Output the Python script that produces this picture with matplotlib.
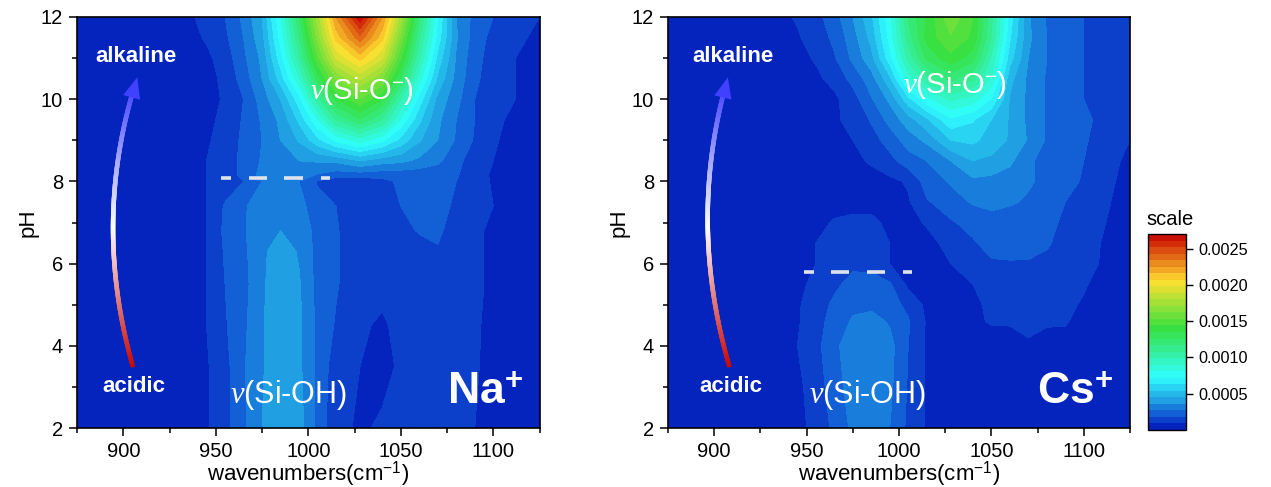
import matplotlib
matplotlib.use("Agg")
import matplotlib.pyplot as plt
import numpy as np
from matplotlib.collections import LineCollection
from matplotlib.colors import LinearSegmentedColormap
from matplotlib.ticker import MultipleLocator

plt.rcParams['font.family'] = ['Liberation Sans', 'DejaVu Sans']
plt.rcParams['mathtext.fontset'] = 'custom'
plt.rcParams['mathtext.rm'] = 'Liberation Sans'
plt.rcParams['mathtext.it'] = 'Liberation Serif:italic'
plt.rcParams['mathtext.bf'] = 'Liberation Sans:bold'

# wavenumber columns shared by both maps
wavenumbers = [875, 930, 945, 955, 965, 975, 985, 995, 1005, 1015, 1028,
               1040, 1050, 1060, 1070, 1080, 1090, 1100, 1112, 1125]

# intensities in units of 1e-5, one row per pH
na_ph = [2, 3.5, 4.5, 5.5, 6.3, 6.8, 7.4, 8.0, 8.15, 8.5, 9, 9.5, 10, 10.5, 11, 11.5, 12]
na_z = [
    [2, 3, 8, 15, 25, 36, 41, 40, 24, 11, 8, 10, 12, 12, 12, 11, 9, 6, 4, 3],
    [2, 3, 8, 15, 26, 35, 43, 38, 25, 13, 9, 7, 10, 12, 12, 11, 10, 6, 4, 3],
    [2, 3, 9, 17, 25, 35, 43, 38, 25, 17, 10, 8, 11, 12, 12, 11, 10, 7, 4, 3],
    [2, 3, 9, 18, 24, 34, 44, 37, 24, 19, 11, 11, 12, 12, 12, 11, 10, 8, 5, 3],
    [2, 3, 9, 19, 25, 34, 41, 35, 24, 19, 11, 11, 12, 13, 17, 12, 10, 8, 5, 3],
    [2, 3, 9, 20, 26, 33, 36, 33, 24, 19, 11, 11, 14, 19, 20, 13, 10, 8, 5, 3],
    [2, 3, 9, 19, 26, 31, 33, 30, 22, 18, 11, 12, 18, 20, 20, 17, 11, 9, 5, 3],
    [2, 3, 9, 13, 18, 27, 30, 27, 17, 12, 12, 15, 20, 20, 20, 18, 13, 8, 5, 3],
    [2, 3, 9, 14, 20, 30, 32, 32, 26, 22, 22, 21, 21, 21, 21, 19, 12, 8, 5, 3],
    [2, 3, 9, 14, 20, 28, 33, 36, 37, 38, 45, 40, 38, 34, 29, 21, 13, 9, 6, 3],
    [2, 3, 8, 12, 20, 27, 36, 46, 60, 74, 85, 74, 60, 46, 36, 26, 17, 10, 6, 3],
    [2, 3, 7, 11, 19, 28, 38, 56, 80, 108, 125, 108, 80, 56, 38, 27, 18, 11, 7, 4],
    [2, 3, 6, 10, 18, 31, 45, 68, 105, 135, 152, 135, 100, 68, 42, 30, 18, 12, 9, 5],
    [2, 3, 6, 11, 22, 36, 58, 88, 130, 162, 182, 162, 126, 85, 52, 33, 20, 13, 9, 5],
    [2, 3, 7, 13, 25, 38, 68, 105, 150, 190, 210, 190, 145, 100, 60, 35, 21, 14, 9, 6],
    [2, 4, 10, 16, 27, 42, 75, 115, 165, 210, 240, 210, 160, 110, 68, 37, 23, 15, 11, 7],
    [2, 5, 12, 18, 29, 45, 80, 125, 175, 225, 268, 225, 175, 120, 72, 36, 24, 18, 13, 9],
]

cs_ph = [2, 3, 4, 4.6, 5, 5.5, 6, 6.5, 7, 7.5, 8, 8.5, 9, 9.5, 10, 10.5, 11, 11.5, 12]
cs_z = [
    [2, 3, 6, 12, 20, 29, 32, 27, 16, 8, 5, 4, 4, 4, 4, 3, 3, 3, 2, 2],
    [2, 3, 7, 13, 23, 31, 34, 29, 17, 8, 5, 4, 4, 4, 4, 4, 3, 3, 2, 2],
    [2, 3, 9, 15, 25, 32, 33, 30, 18, 8, 5, 4, 4, 5, 8, 6, 5, 4, 3, 2],
    [2, 3, 8, 14, 22, 28, 30, 26, 19, 8, 5, 7, 10, 10, 11, 10, 10, 5, 3, 2],
    [2, 3, 8, 13, 20, 25, 25, 23, 15, 7, 5, 7, 11, 12, 12, 12, 11, 8, 4, 2],
    [2, 3, 7, 11, 16, 21, 22, 19, 7, 4, 6, 9, 13, 14, 14, 14, 13, 10, 5, 2],
    [2, 3, 6, 9, 13, 16, 15, 9, 4, 4, 9, 14, 17, 17, 17, 16, 14, 11, 8, 3],
    [2, 3, 5, 9, 12, 14, 14, 9, 4, 6, 12, 17, 21, 23, 22, 19, 15, 12, 8, 3],
    [2, 3, 4, 6, 10, 11, 11, 7, 6, 10, 17, 21, 23, 23, 23, 21, 16, 13, 9, 4],
    [2, 3, 4, 4, 5, 6, 6, 5, 8, 17, 23, 28, 30, 28, 26, 24, 18, 14, 10, 5],
    [2, 3, 3, 4, 5, 6, 6, 7, 10, 22, 28, 34, 33, 31, 28, 25, 21, 17, 11, 6],
    [2, 3, 3, 4, 6, 7, 10, 15, 23, 27, 36, 45, 43, 38, 28, 25, 22, 18, 12, 7],
    [2, 3, 3, 4, 7, 9, 14, 22, 31, 38, 54, 56, 50, 44, 35, 26, 23, 19, 14, 9],
    [2, 3, 3, 5, 8, 11, 19, 30, 41, 52, 70, 64, 54, 44, 34, 26, 23, 20, 15, 10],
    [2, 3, 3, 5, 7, 14, 26, 38, 60, 78, 92, 86, 71, 44, 34, 26, 22, 18, 15, 11],
    [2, 3, 4, 7, 12, 21, 32, 52, 85, 105, 120, 110, 88, 48, 34, 26, 22, 18, 14, 11],
    [2, 3, 6, 10, 17, 29, 42, 68, 102, 128, 141, 130, 97, 58, 36, 27, 22, 18, 13, 9],
    [2, 4, 8, 13, 20, 32, 48, 75, 112, 138, 152, 142, 108, 64, 38, 27, 22, 18, 13, 9],
    [2, 5, 10, 15, 23, 36, 52, 78, 118, 136, 160, 144, 110, 68, 37, 26, 22, 18, 13, 9],
]

xticks = [900, 950, 1000, 1050, 1100]
yticks = [2, 4, 6, 8, 10, 12]
cbar_ticks = [0.0005, 0.0010, 0.0015, 0.0020, 0.0025]

W, H = 1271, 487
fig = plt.figure(figsize=(W / 100, H / 100), dpi=100)

def px_axes(x0, y0, x1, y1):
    return fig.add_axes([x0 / W, 1 - y1 / H, (x1 - x0) / W, (y1 - y0) / H])

# origin style rainbow, stepped by the contour levels
top = 0.0027
cmap = LinearSegmentedColormap.from_list('origin', [
    (0.0, '#0216b6'),
    (0.00018 / top, '#1050d2'),
    (0.00040 / top, '#209ee2'),
    (0.00073 / top, '#30ffff'),
    (0.00140 / top, '#38e040'),
    (0.00205 / top, '#ffe030'),
    (1.0, '#c80000'),
])
levels = np.arange(31) * 9e-5

def draw_arc(ax, p0, mid, p2):
    p0, mid, p2 = np.array(p0), np.array(mid), np.array(p2)
    ctrl = 2 * mid - (p0 + p2) / 2
    t = np.linspace(0, 1, 120)[:, None]
    pts = (1 - t) ** 2 * p0 + 2 * t * (1 - t) * ctrl + t ** 2 * p2
    segs = np.stack([pts[:-1], pts[1:]], axis=1)
    arc_cmap = LinearSegmentedColormap.from_list('arc', ['#c80808', '#ffffff', '#4848ff'])
    lc = LineCollection(segs, cmap=arc_cmap, linewidths=3.2, capstyle='projecting', zorder=4)
    lc.set_array(t[:-1, 0])
    ax.add_collection(lc)
    d = p2 - ctrl
    ax.annotate('', xy=p2 + d * 0.07, xytext=pts[-14], zorder=5,
                arrowprops=dict(arrowstyle='-|>,head_width=0.42,head_length=1.0',
                                mutation_scale=15, color='#4040ff', lw=0,
                                shrinkA=0, shrinkB=0))

def draw_panel(box, ph, z, dashes, dash_ph, arc, texts):
    ax = px_axes(*box)
    cf = ax.contourf(wavenumbers, ph, np.array(z) * 1e-5, levels=levels, cmap=cmap)
    ax.set_xlim(875, 1125)
    ax.set_ylim(2, 12)
    ax.set_xticks(xticks)
    ax.xaxis.set_minor_locator(MultipleLocator(25))
    ax.set_yticks(yticks)
    ax.yaxis.set_minor_locator(MultipleLocator(1))
    ax.tick_params(which='major', length=6, width=1.1, labelsize=14.5, pad=4)
    ax.tick_params(which='minor', length=3.5, width=1.1)
    ax.set_xlabel('wavenumbers(cm$^{-1}$)', fontsize=16, labelpad=-1)
    ax.set_ylabel('pH', fontsize=16, labelpad=2)
    for s in ax.spines.values():
        s.set_linewidth(1.2)

    # transition line
    for a, b in dashes:
        ax.plot([a, b], [dash_ph, dash_ph], color='#dfe3ee', lw=2.6, solid_capstyle='butt', zorder=4)

    draw_arc(ax, *arc)
    for x, y, s, size, weight in texts:
        ax.text(x, y, s, color='white', fontsize=size, fontweight=weight, ha='center', va='center', zorder=6)
    return cf

nu_oh = r'$\mathit{v}$(Si-OH)'
nu_o = r'$\mathit{v}$(Si-O$^{-}$)'

draw_panel((77, 17, 539.5, 428), na_ph, na_z,
           [(953, 958), (968, 977.5), (987, 997), (1007, 1012)], 8.08,
           ((905, 3.53), (894.5, 6.94), (906, 10.3)),
           [(907, 11.05, 'alkaline', 16, 'bold'), (906, 3.0, 'acidic', 16, 'bold'),
            (1029, 10.2, nu_o, 21, 'normal'), (989.5, 2.8, nu_oh, 22, 'normal'),
            (1095.5, 2.87, r'Na$^{\mathbf{+}}$', 32, 'bold')])

cf = draw_panel((668, 17, 1130, 428), cs_ph, cs_z,
                [(948.6, 954), (963, 973), (982.6, 992.5), (1002, 1007.3)], 5.8,
                ((908, 3.53), (896.5, 6.94), (906, 10.3)),
                [(910, 11.05, 'alkaline', 16, 'bold'), (909, 3.0, 'acidic', 16, 'bold'),
                 (1030, 10.35, nu_o, 21, 'normal'), (983, 2.8, nu_oh, 22, 'normal'),
                 (1095, 2.87, r'Cs$^{\mathbf{+}}$', 32, 'bold')])

cax = px_axes(1148, 234, 1186, 430)
cb = fig.colorbar(cf, cax=cax, ticks=cbar_ticks)
cb.ax.set_yticklabels(['0.0005', '0.0010', '0.0015', '0.0020', '0.0025'])
cb.ax.tick_params(length=5, width=1, labelsize=11.7, pad=4)
cb.ax.minorticks_off()
cb.outline.set_linewidth(1)
fig.text(1146 / W, 1 - 219 / H, 'scale', fontsize=14.5, ha='left', va='center')

fig.savefig('out.png', dpi=100)
